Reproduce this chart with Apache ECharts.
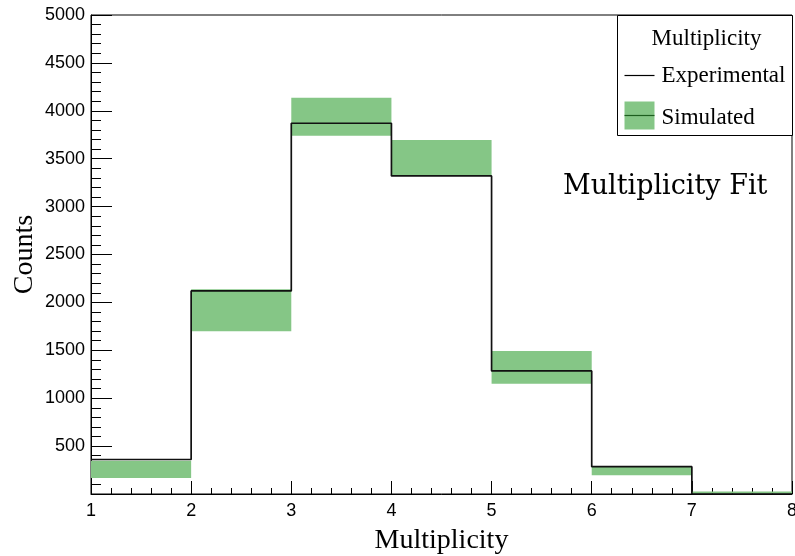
<!DOCTYPE html>
<html>
<head>
<meta charset="utf-8">
<script src="https://cdn.jsdelivr.net/npm/echarts@6/dist/echarts.min.js"></script>
<style>
  html, body { margin: 0; padding: 0; background: #fff; }
  #chart { width: 795px; height: 556px; }
</style>
</head>
<body>
<div id="chart"></div>
<script>
// Bin lower edges (multiplicity) and bin width
const binEdges = [1, 2, 3, 4, 5, 6, 7, 8];
// Experimental counts per bin
const experimental = [360, 2120, 3870, 3320, 1285, 285, 0];
// Simulated counts per bin (centre) and their uncertainty
const simulated = [258, 1918, 3938, 3507, 1322, 241, 15];
const simulatedErr = [90, 220, 199, 187, 170, 45, 10];
// Axis tick values
const yTicks = [500, 1000, 1500, 2000, 2500, 3000, 3500, 4000, 4500, 5000];
const xTicks = [1, 2, 3, 4, 5, 6, 7, 8];

// Step-line points: left edge of each bin, then closing point at the last edge
const expSteps = experimental.map((v, i) => [binEdges[i], v]);
expSteps.push([binEdges[binEdges.length - 1], experimental[experimental.length - 1]]);

// Band rectangles: [xLow, xHigh, yLow, yHigh]
const simBand = simulated.map((v, i) => [binEdges[i], binEdges[i + 1], v - simulatedErr[i], v + simulatedErr[i]]);

const GREEN = '#85c686';
const tickFont = { fontFamily: 'Liberation Sans', fontSize: 18, color: '#000' };
const legendFont = { fontFamily: 'Liberation Serif', fontSize: 23, fill: '#000' };

const chart = echarts.init(document.getElementById('chart'), null, { renderer: 'canvas' });
chart.setOption({
  animation: false,
  backgroundColor: '#fff',
  grid: {
    left: 91, right: 3, top: 15, bottom: 62,
    outerBoundsMode: 'none', containLabel: false,
    show: true, borderColor: '#000', borderWidth: 1, backgroundColor: 'transparent'
  },
  xAxis: {
    type: 'value',
    min: xTicks[0], max: xTicks[xTicks.length - 1], interval: 1,
    name: 'Multiplicity',
    nameLocation: 'middle', nameGap: 33, nameMoveOverlap: false,
    nameTextStyle: { fontFamily: 'Liberation Serif', fontSize: 28, color: '#000' },
    axisLine: { show: true, onZero: false, lineStyle: { color: '#000', width: 1 } },
    axisTick: { show: true, inside: true, length: 13, lineStyle: { color: '#000', width: 1 } },
    minorTick: { show: true, splitNumber: 5, length: 6, lineStyle: { color: '#000', width: 1 } },
    axisLabel: Object.assign({ margin: 8 }, tickFont),
    splitLine: { show: false }
  },
  yAxis: {
    type: 'value',
    min: 0, max: yTicks[yTicks.length - 1], interval: 500,
    name: 'Counts',
    nameLocation: 'middle', nameGap: 52, nameMoveOverlap: false,
    nameTextStyle: { fontFamily: 'Liberation Serif', fontSize: 28, color: '#000' },
    axisLine: { show: true, lineStyle: { color: '#000', width: 1 } },
    axisTick: { show: true, inside: true, length: 21, lineStyle: { color: '#000', width: 1 } },
    minorTick: { show: true, splitNumber: 5, length: 10, lineStyle: { color: '#000', width: 1 } },
    axisLabel: Object.assign({
      margin: 6,
      formatter: v => (yTicks.indexOf(v) >= 0 ? String(v) : '')
    }, tickFont),
    splitLine: { show: false }
  },
  series: [
    {
      name: 'Simulated',
      type: 'custom',
      z: 1,
      data: simBand,
      encode: { x: [0, 1], y: [2, 3] },
      renderItem: function (params, api) {
        const topLeft = api.coord([api.value(0), api.value(3)]);
        const botRight = api.coord([api.value(1), api.value(2)]);
        return {
          type: 'rect',
          shape: {
            x: topLeft[0], y: topLeft[1],
            width: botRight[0] - topLeft[0],
            height: botRight[1] - topLeft[1]
          },
          style: { fill: GREEN }
        };
      }
    },
    {
      name: 'Experimental',
      type: 'line',
      z: 3,
      step: 'end',
      data: expSteps,
      symbol: 'none',
      lineStyle: { color: '#111', width: 1.7 }
    }
  ],
  graphic: [
    {
      type: 'group',
      left: 617, top: 15,
      children: [
        { type: 'rect', shape: { x: 0, y: 0, width: 175, height: 120 },
          style: { fill: '#fff', stroke: '#000', lineWidth: 1 } },
        { type: 'text', x: 89, y: 23,
          style: Object.assign({ text: 'Multiplicity', align: 'center', verticalAlign: 'middle' }, legendFont) },
        { type: 'line', shape: { x1: 7, y1: 60, x2: 37, y2: 60 },
          style: { stroke: '#000', lineWidth: 1.2 } },
        { type: 'text', x: 44, y: 60,
          style: Object.assign({ text: 'Experimental', align: 'left', verticalAlign: 'middle' }, legendFont) },
        { type: 'rect', shape: { x: 7, y: 86, width: 30, height: 28 },
          style: { fill: GREEN } },
        { type: 'line', shape: { x1: 7, y1: 100, x2: 37, y2: 100 },
          style: { stroke: '#1d5e1e', lineWidth: 1.2 } },
        { type: 'text', x: 44, y: 102,
          style: Object.assign({ text: 'Simulated', align: 'left', verticalAlign: 'middle' }, legendFont) }
      ]
    },
    {
      type: 'text',
      left: 563, top: 173,
      style: { text: 'Multiplicity Fit', fontFamily: 'DejaVu Serif', fontSize: 27, fill: '#000' }
    }
  ]
});
</script>
</body>
</html>
